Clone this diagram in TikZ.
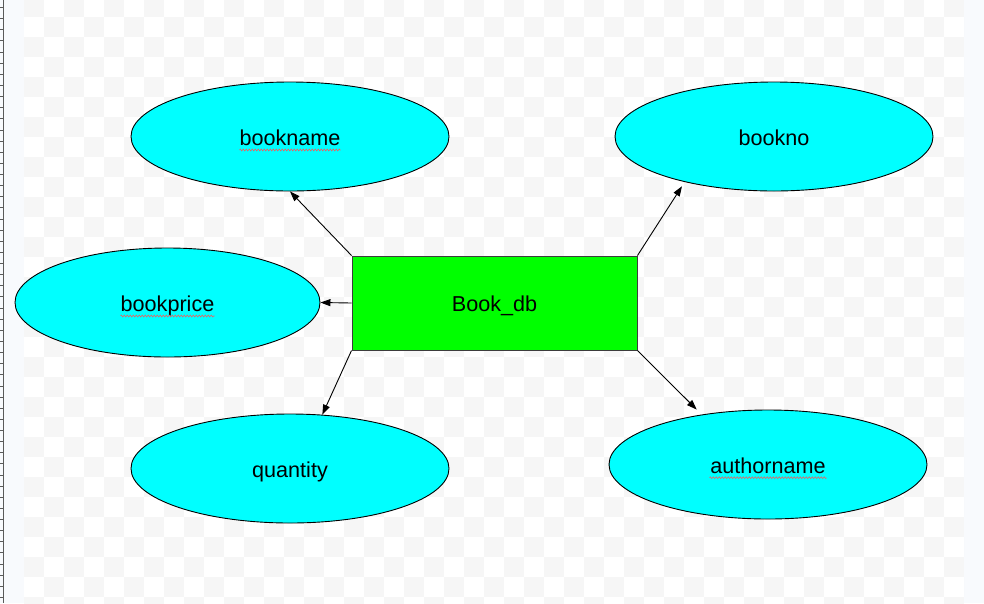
\documentclass[tikz,border=0pt]{standalone}
\usepackage{fontspec}
\setmainfont{Liberation Sans}
\usetikzlibrary{shapes.geometric,arrows.meta,decorations.pathmorphing,calc}
\definecolor{attrfill}{RGB}{0,255,255}
\definecolor{entfill}{RGB}{0,255,0}
\definecolor{entline}{RGB}{60,60,60}
\definecolor{chk}{RGB}{246,246,246}
\definecolor{pale}{RGB}{248,250,253}
\definecolor{squigcol}{RGB}{230,100,100}
\definecolor{rulercol}{RGB}{90,90,90}
\begin{document}
\begin{tikzpicture}[x=1pt,y=-1pt,
  labelfont/.style={font=\fontsize{21.6}{26}\selectfont},
  attrbox/.style={ellipse,draw=black,line width=0.9pt,fill=attrfill,
    minimum width=318pt,minimum height=109pt,inner sep=0pt,labelfont,
    text height=21pt,text depth=3pt},
  entbox/.style={rectangle,draw=entline,line width=1pt,fill=entfill,
    minimum width=285pt,minimum height=94pt,inner sep=0pt,labelfont,
    text height=21pt,text depth=5pt},
  conn/.style={line width=0.9pt,-{Triangle[length=10pt,width=7pt]}},
  squiggly/.style={draw=squigcol,line width=0.6pt,decorate,
    decoration={zigzag,segment length=3pt,amplitude=0.9pt}}]
% background
\useasboundingbox (0,0) rectangle (984,603);
\fill[pale] (0,0) rectangle (984,603);
\fill[white] (24,0) rectangle (964,603);
\begin{scope}
  \clip (24,0) rectangle (964,603);
  \foreach \r in {0,...,30} {
    \pgfmathtruncatemacro\off{mod(\r,2)}
    \foreach \k in {0,...,23} {
      \fill[chk] ({24+20*(2*\k+\off)},{-3.3+20*\r}) rectangle ++(20,20);
    }
  }
\end{scope}
% ruler at left edge
\draw[rulercol,line width=0.8pt] (3,0) -- (3,603);
\foreach \k in {0,...,53} {
  \draw[rulercol,line width=0.7pt] (0,{7.45+11.13*\k}) -- (3,{7.45+11.13*\k});
}
% nodes
\node[attrbox] (bookname) at (290,136.5) {bookname};
\node[attrbox] (bookno) at (774,136.5) {bookno};
\node[attrbox,minimum width=305pt] (bookprice) at (167.5,302.5) {bookprice};
\node[attrbox] (quantity) at (290,468.5) {quantity};
\node[attrbox] (authorname) at (768,464.5) {authorname};
\node[entbox] (db) at (494.5,303) {Book\_db};
% connectors
\draw[conn] (db.north west) -- (bookname.south);
\draw[conn] (db.west) -- (bookprice.east);
\draw[conn] (db.south west) -- (quantity.59);
\draw[conn,shorten >=5pt] (db.north east) -- (bookno.207);
\draw[conn,shorten >=7pt] (db.south east) -- (authorname.143);
% spell-check underlines
\draw[squiggly] ($(bookname.center)+(-50.5,13.5)$) -- ++(101,0);
\draw[squiggly] ($(bookprice.center)+(-47,13.5)$) -- ++(94,0);
\draw[squiggly] ($(authorname.center)+(-58.5,13.2)$) -- ++(117,0);
\end{tikzpicture}
\end{document}
